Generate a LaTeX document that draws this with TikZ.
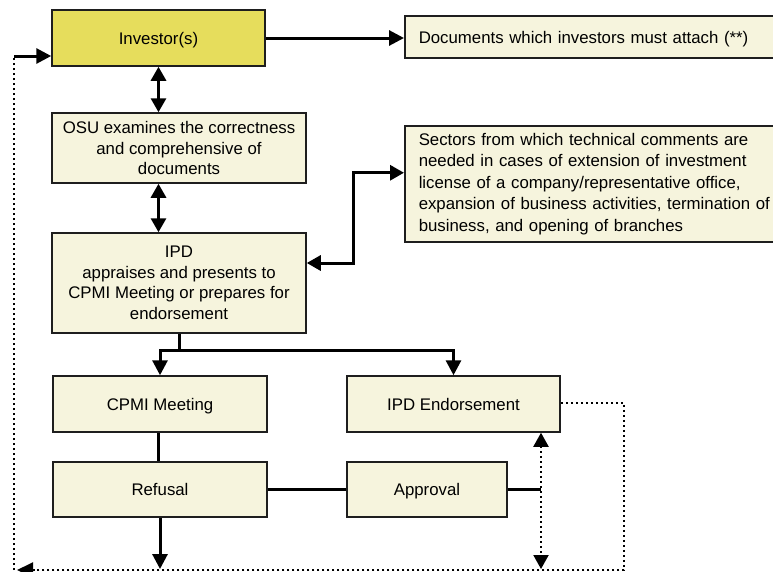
\documentclass[tikz,border=0pt]{standalone}
\usepackage{fontspec}
\setmainfont{Liberation Sans}
\usetikzlibrary{arrows.meta,calc}
\definecolor{invyel}{RGB}{230,221,92}
\definecolor{cream}{RGB}{246,244,221}
\definecolor{bord}{RGB}{30,30,30}
\tikzset{
  box/.style={draw=bord, line width=1.5pt, fill=cream, inner sep=0pt, align=center,
    font=\fontsize{16.8}{20.5}\selectfont},
  single/.style={text height=12.3pt, text depth=0.3pt},
  lbox/.style={draw=bord, line width=1.5pt, fill=cream, inner xsep=14pt, inner ysep=0pt, align=left,
    text width=380pt, font=\fontsize{16.8}{21.5}\selectfont},
  conn/.style={line width=3pt, draw=black},
  tip/.style={-{Triangle[length=15pt,width=15pt]}},
  dtip/.style={{Triangle[length=14pt,width=15pt]}-{Triangle[length=14pt,width=15pt]}},
  dots/.style={line width=2pt, dash pattern=on 2pt off 3pt},
}
\begin{document}
\begin{tikzpicture}[x=1pt,y=-1pt]
\clip (0,0) rectangle (773,571);
\fill[white] (0,0) rectangle (773,571);

\node[box, single, fill=invyel, minimum width=213pt, minimum height=56pt] (inv) at (158.5,38) {Investor(s)};
\node[lbox, single, minimum height=42pt, anchor=west] (docs) at (404,37) {Documents which investors must attach (**)};
\node[box, minimum width=254pt, minimum height=70pt] (osu) at (179,148) {OSU examines the correctness\\and comprehensive of\\documents};
\node[lbox, minimum height=116pt, anchor=north west] (sect) at (404,125) {Sectors from which technical comments are\\needed in cases of extension of investment\\license of a company/representative office,\\expansion of business activities, termination of\\business, and opening of branches};
\node[box, minimum width=254pt, minimum height=100pt] (ipd) at (179,283) {IPD\\appraises and presents to\\CPMI Meeting or prepares for\\endorsement};
\node[box, single, minimum width=214pt, minimum height=56pt] (cpmi) at (160,404) {CPMI Meeting};
\node[box, single, minimum width=213pt, minimum height=56pt] (ipde) at (453.5,404) {IPD Endorsement};
\node[box, single, minimum width=214pt, minimum height=55pt] (ref) at (160,489.5) {Refusal};
\node[box, single, minimum width=160pt, minimum height=55pt] (app) at (427,489.5) {Approval};

\coordinate (br) at (179,350);
\coordinate (ja) at (541,489.5);
\coordinate (jb) at (541,569);
\coordinate (rc) at (624,403);
\coordinate (rb) at (624,570);
\coordinate (lb) at (14,570);
\coordinate (lt) at (14,56);

% top connectors
\draw[conn, tip] (inv.east) -- (docs.west |- inv.east);
\draw[conn, dtip] (inv.south) -- (inv.south |- osu.north);
\draw[conn, dtip] (inv.south |- osu.south) -- (inv.south |- ipd.north);
\draw[conn, dtip] ([yshift=20pt]ipd.east) -- ++(47,0) |- ([yshift=11pt]sect.west);

% branch
\draw[conn] (ipd.south) -- (br);
\draw[conn, tip] (br) -| (cpmi.north);
\draw[conn, tip] (br) -| (ipde.north);

% lower
\draw[conn] (cpmi.south -| 158,0) -- (ref.north -| 158,0);
\draw[conn] (ref.east) -- (app.west);
\draw[conn] (app.east) -- (ja);
\draw[conn, tip] (ref.south) -- (ref.south |- jb);
\draw[dots, dtip] (ipde.south -| ja) -- (jb);

% feedback loop
\draw[dots] (ipde.east |- rc) -- (rc) -- (rb) -- ($(lb)+(20,0)$);
\draw[dots, -{Triangle[length=16pt,width=15pt]}] ($(lb)+(30,0)$) -- ($(lb)+(3,0)$);
\draw[dots] (lb) -- (lt);
\draw[conn, tip] (lt) -- ([yshift=-18pt]inv.west);
\end{tikzpicture}
\end{document}
